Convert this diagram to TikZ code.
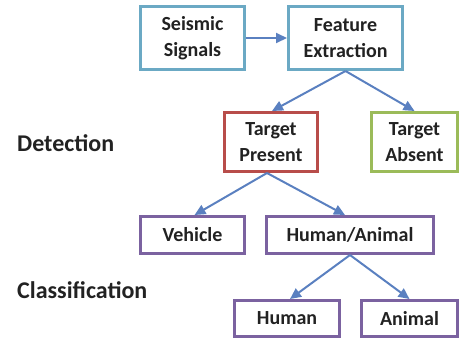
\documentclass[tikz,border=0pt]{standalone}
\usepackage{fontspec}
\setmainfont{Carlito}
\usetikzlibrary{arrows.meta}
\definecolor{cblue}{HTML}{6BA9C4}
\definecolor{cred}{HTML}{B84D4A}
\definecolor{cgreen}{HTML}{9BBB59}
\definecolor{cpurple}{HTML}{7B62A0}
\definecolor{carrow}{HTML}{5A80C0}
\definecolor{ctext}{HTML}{222222}
\tikzset{
  box/.style={draw, line width=3pt, fill=white, align=center, inner sep=0pt,
    font=\fontsize{20}{26}\selectfont\bfseries, text=ctext},
  lbl/.style={anchor=west, inner sep=0pt, font=\fontsize{24}{26}\selectfont\bfseries, text=ctext},
  arr/.style={draw=carrow, line width=2pt, -{Triangle[length=11pt,width=10pt]}}
}
\begin{document}
\begin{tikzpicture}[x=1pt,y=-1pt]
\useasboundingbox (0,0) rectangle (460,341);
\node[box, draw=cblue, minimum width=104pt, minimum height=63pt] (ss) at (192.5,38) {Seismic\\Signals};
\node[box, draw=cblue, minimum width=114pt, minimum height=63pt] (fe) at (345.5,38) {Feature\\Extraction};
\node[box, draw=cred, minimum width=93pt, minimum height=59pt] (tp) at (271,142) {Target\\Present};
\node[box, draw=cgreen, minimum width=86pt, minimum height=59pt] (ta) at (414.5,142) {Target\\Absent};
\node[box, draw=cpurple, minimum width=104pt, minimum height=37pt] (ve) at (192.5,235) {Vehicle};
\node[box, draw=cpurple, minimum width=167pt, minimum height=37pt] (ha) at (350,235) {Human/Animal};
\node[box, draw=cpurple, minimum width=105pt, minimum height=36pt] (hu) at (287,318.5) {Human};
\node[box, draw=cpurple, minimum width=96pt, minimum height=36pt] (an) at (409.5,318.5) {Animal};
\node[lbl] (det) at (17,143) {Detection};
\node[lbl] (cls) at (17,290) {Classification};
\draw[arr] (ss.east) -- (fe.west);
\draw[arr] (fe.south) -- ([xshift=1pt]tp.north);
\draw[arr] (fe.south) -- (ta.north);
\draw[arr] ([xshift=-4pt]tp.south) -- ([xshift=2pt]ve.north);
\draw[arr] ([xshift=-4pt]tp.south) -- ([xshift=-5pt]ha.north);
\draw[arr] (ha.south) -- ([xshift=3pt]hu.north);
\draw[arr] (ha.south) -- (an.north);
\end{tikzpicture}
\end{document}
